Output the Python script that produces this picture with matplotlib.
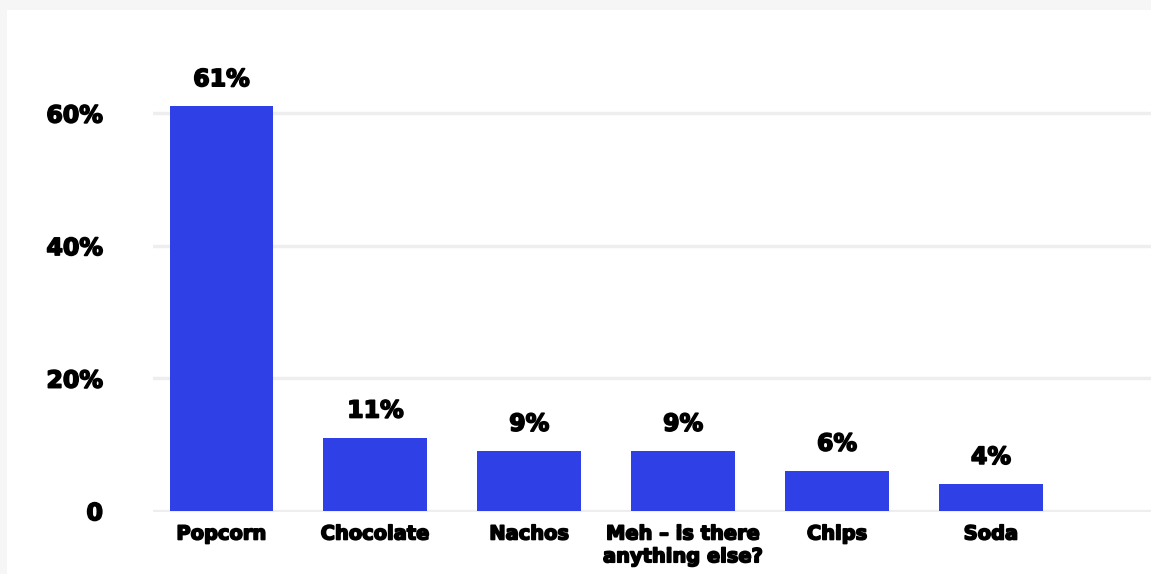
import matplotlib
matplotlib.use("Agg")
from matplotlib import pyplot as plt
from matplotlib.patches import Rectangle
import matplotlib.patheffects as pe

categories = ["Popcorn", "Chocolate", "Nachos", "Meh \u2013 is there\nanything else?", "Chips", "Soda"]
shares = [61, 11, 9, 9, 6, 4]
y_ticks = [0, 20, 40, 60]
y_tick_labels = ["0", "20%", "40%", "60%"]

bar_color = "#2f40e6"
grid_color = "#eeeeee"
heavy = [pe.withStroke(linewidth=1.2, foreground="black")]

fig = plt.figure(figsize=(11.51, 5.74), dpi=100, facecolor="#f6f6f6")
# white card inside the grey frame, kept behind the axes
fig.patches.append(Rectangle((7 / 1151, 0), 1, 1 - 10 / 574, transform=fig.transFigure,
                             facecolor="white", edgecolor="none", zorder=-10))

ax = fig.add_axes([153 / 1151, 62 / 574, 998 / 1151, 452 / 574])
ax.set_facecolor("none")
ax.set_zorder(5)

x = list(range(len(categories)))
ax.bar(x, shares, width=0.675, color=bar_color, zorder=3)

for xi, v in zip(x, shares):
    ax.text(xi, v + 2.3, f"{v}%", ha="center", va="bottom",
            fontsize=17, fontweight="heavy", color="black", path_effects=heavy)

ax.set_xlim(-0.445, 6.04)
ax.set_ylim(-0.2, 68)
ax.set_yticks(y_ticks)
ax.set_yticklabels(y_tick_labels, fontsize=17, fontweight="heavy", path_effects=heavy)
ax.set_xticks(x)
ax.set_xticklabels(categories, fontsize=14, fontweight="heavy", linespacing=1.25,
                   path_effects=heavy)

ax.tick_params(axis="y", length=0, pad=36)
ax.tick_params(axis="x", length=0, pad=9)
ax.grid(axis="y", color=grid_color, linewidth=2.5, zorder=0)
for side in ax.spines.values():
    side.set_visible(False)

plt.savefig("out.png", dpi=100, facecolor=fig.get_facecolor())
